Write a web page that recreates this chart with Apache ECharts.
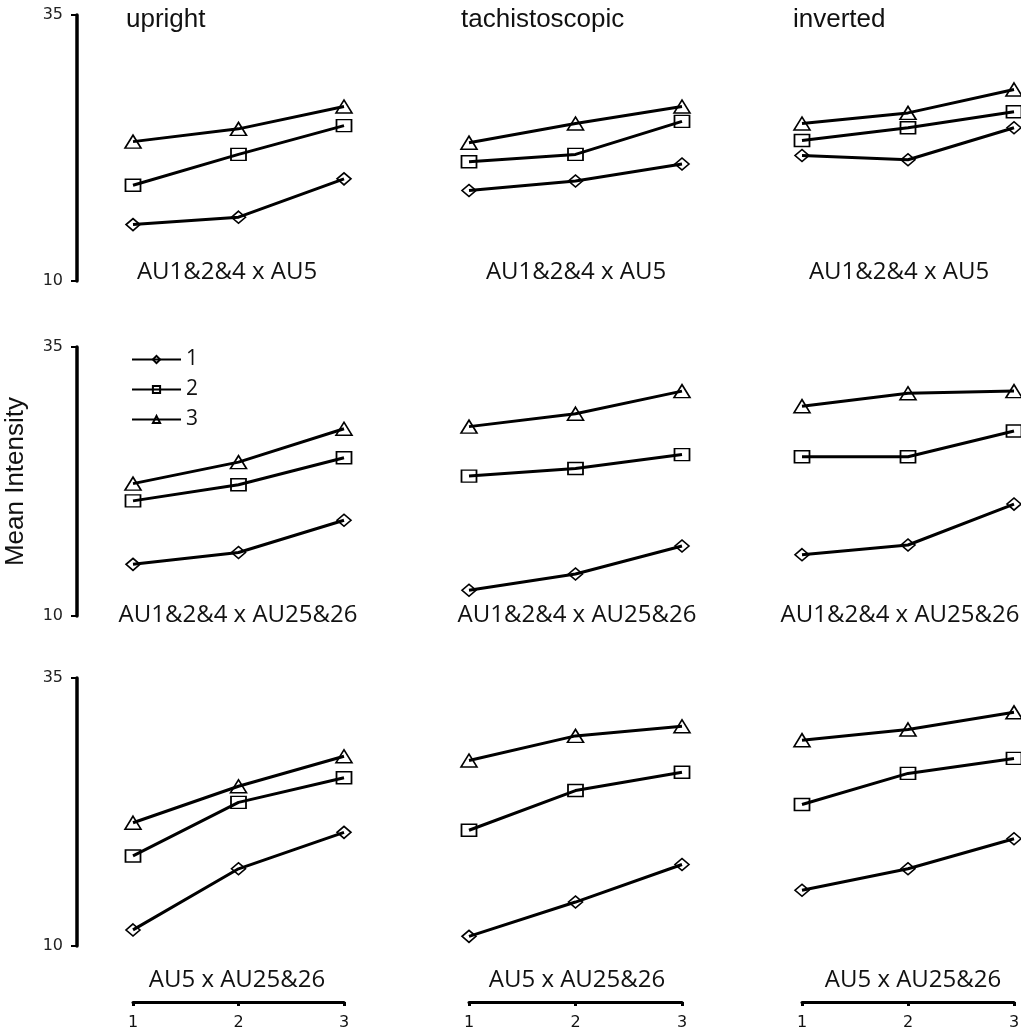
<!DOCTYPE html>
<html>
<head>
<meta charset="utf-8">
<script src="https://cdn.jsdelivr.net/npm/echarts@6/dist/echarts.min.js"></script>
<style>
  html, body { margin: 0; padding: 0; background: #fff; }
  #chart { width: 1021px; height: 1034px; }
</style>
</head>
<body>
<div id="chart"></div>
<script>
// x categories (trial block) and panel labels
const blocks = [1, 2, 3];
const conditions = ["upright", "tachistoscopic", "inverted"];
const pairs = ["AU1&2&4 x AU5", "AU1&2&4 x AU25&26", "AU5 x AU25&26"];
const levels = ["1", "2", "3"];
const yTicks = [10, 35];

// mean intensity, one triple per panel: row = AU pair, col = condition
const level1 = [
  [15.3, 16.0, 19.6], [18.5, 19.4, 21.0], [21.8, 21.4, 24.4],
  [14.8, 15.9, 18.9], [12.4, 13.9, 16.5], [15.7, 16.6, 20.4],
  [11.5, 17.2, 20.6], [10.9, 14.1, 17.6], [15.2, 17.2, 20.0]
];
const level2 = [
  [19.0, 21.9, 24.6], [21.2, 21.9, 25.0], [23.2, 24.4, 25.9],
  [20.7, 22.2, 24.7], [23.0, 23.7, 25.0], [24.8, 24.8, 27.2],
  [18.4, 23.4, 25.7], [20.8, 24.5, 26.2], [23.2, 26.1, 27.5]
];
const level3 = [
  [23.1, 24.3, 26.4], [23.0, 24.8, 26.4], [24.8, 25.8, 28.0],
  [22.3, 24.3, 27.4], [27.6, 28.8, 30.9], [29.5, 30.7, 30.9],
  [21.5, 24.9, 27.7], [27.3, 29.6, 30.5], [29.2, 30.2, 31.8]
];

var myChart = echarts.init(document.getElementById("chart"));

// panel layout in pixels
const colLeft = [133, 469, 802];
const colRight = [677, 339, 7];
const rowTop = [15, 347, 678];
const rowBottom = [753, 418, 88];
const subX = [[227, 576, 899], [238, 577, 900], [237, 577, 913]];
const subY = [272, 615, 980];

const symbols = ["diamond", "rect", "triangle"];
const symbolSizes = [[14, 12], [15, 12], [16, 13]];
const allLevels = [level1, level2, level3];

const grids = [], xAxes = [], yAxes = [], series = [], titles = [];

for (let r = 0; r < 3; r++) {
  for (let c = 0; c < 3; c++) {
    const i = r * 3 + c;
    grids.push({
      left: colLeft[c], right: colRight[c], top: rowTop[r], bottom: rowBottom[r],
      outerBoundsMode: "none"
    });
    xAxes.push({
      gridIndex: i, type: "value", min: 1, max: 3, interval: 1,
      show: r === 2, offset: 56,
      splitLine: { show: false },
      axisLine: { lineStyle: { color: "#000", width: 3 } },
      axisTick: { length: 4, lineStyle: { color: "#000", width: 3 } },
      axisLabel: {
        margin: 13, fontSize: 16, color: "#111", fontFamily: "DejaVu Sans",
        formatter: (v) => (blocks.indexOf(v) >= 0 ? String(v) : "")
      }
    });
    yAxes.push({
      gridIndex: i, type: "value", min: 10, max: 35, interval: 25,
      show: c === 0, offset: 56,
      splitLine: { show: false },
      axisLine: { show: true, lineStyle: { color: "#000", width: 3.5 } },
      axisTick: { show: true, length: 6, lineStyle: { color: "#000", width: 2 } },
      axisLabel: {
        margin: 14, fontSize: 16, color: "#222", fontFamily: "DejaVu Sans",
        formatter: (v) => (yTicks.indexOf(v) >= 0 ? String(v) : "")
      }
    });
    for (let k = 0; k < 3; k++) {
      series.push({
        name: levels[k], type: "line",
        xAxisIndex: i, yAxisIndex: i,
        data: blocks.map((b, j) => [b, allLevels[k][i][j]]),
        symbol: symbols[k], symbolSize: symbolSizes[k],
        clip: false, animation: false,
        lineStyle: { color: "#000", width: 3 },
        itemStyle: { color: "rgba(255,255,255,0)", borderColor: "#000", borderWidth: 1.6 }
      });
    }
    titles.push({
      text: pairs[r], left: subX[r][c], top: subY[r],
      textAlign: "center", textVerticalAlign: "middle", padding: 0,
      textStyle: { fontFamily: "Open Sans", fontSize: 24, fontWeight: "normal", color: "#111" }
    });
  }
}

const titleLeft = [126, 461, 793];
conditions.forEach((name, c) => {
  titles.push({
    text: name, left: titleLeft[c], top: 7, padding: 0,
    textStyle: { fontFamily: "Liberation Sans", fontSize: 26, fontWeight: "normal", color: "#111" }
  });
});

myChart.setOption({
  backgroundColor: "#fff",
  animation: false,
  title: titles,
  grid: grids,
  xAxis: xAxes,
  yAxis: yAxes,
  legend: {
    data: levels, orient: "vertical", left: 131, top: 349,
    itemWidth: 49, itemHeight: 9, itemGap: 9, padding: 0,
    textStyle: { fontFamily: "Open Sans", fontSize: 21, color: "#111" }
  },
  graphic: [{
    type: "text", left: 3, top: 397, rotation: Math.PI / 2,
    style: { text: "Mean Intensity", fontFamily: "Liberation Sans", fontSize: 26, fill: "#111" }
  }],
  series: series
});
</script>
</body>
</html>
